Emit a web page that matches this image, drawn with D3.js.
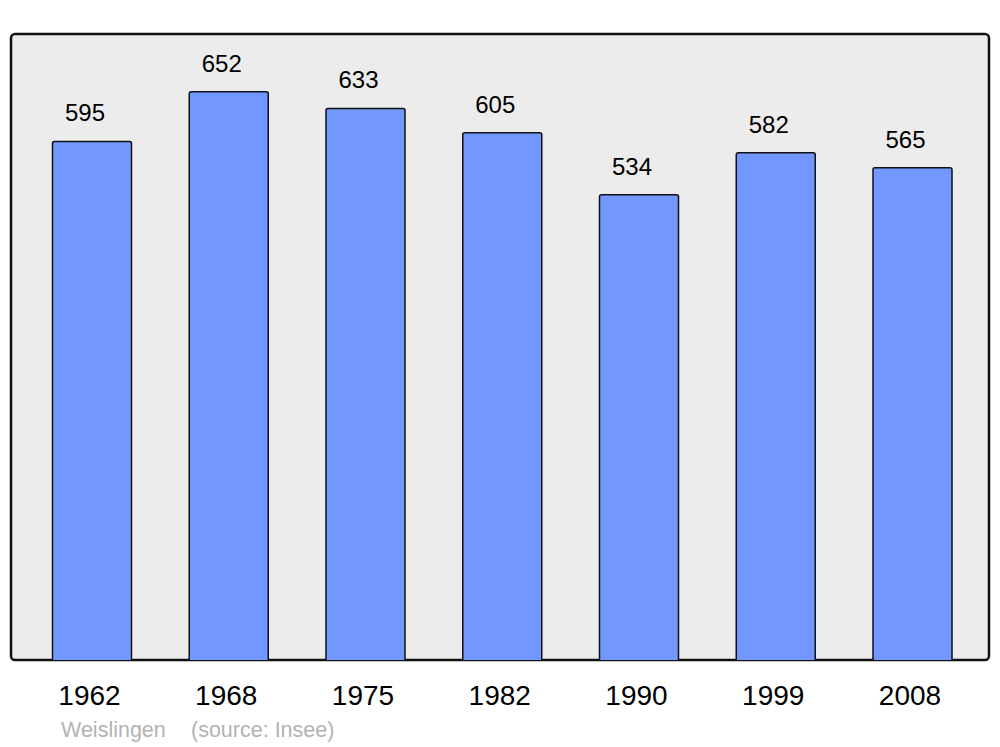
<!DOCTYPE html>
<html>
<head>
<meta charset="utf-8">
<script src="https://cdn.jsdelivr.net/npm/d3@7"></script>
<style>
  body { margin: 0; background: #fff; }
  text { font-family: "Liberation Sans", Arial, sans-serif; }
</style>
</head>
<body>
<div id="canvas"></div>
<script>
// population data
var years = ['1962', '1968', '1975', '1982', '1990', '1999', '2008'];
var population = [595, 652, 633, 605, 534, 582, 565];
var place = 'Weislingen';
var source = '(source: Insee)';

var W = 1000, H = 747;
var svg = d3.select('#canvas').append('svg')
    .attr('width', W).attr('height', H);

var panel = {x: 11, y: 34, w: 978, h: 626};

svg.append('rect')
    .attr('x', panel.x).attr('y', panel.y)
    .attr('width', panel.w).attr('height', panel.h)
    .attr('rx', 4)
    .style('fill', '#ececec')
    .style('stroke', '#111')
    .style('stroke-width', 2.5);

var x = d3.scalePoint()
    .domain(years)
    .range([92, 912.5]);

var y = d3.scaleLinear()
    .domain([0, d3.max(population) * 1.1])
    .range([panel.y + panel.h, panel.y + 1]);

var barW = 79;
var data = years.map(function(d, i){ return {year: d, value: population[i]}; });

svg.selectAll('.bar')
    .data(data)
    .enter()
    .append('path').attr('class', 'bar')
    .attr('d', function(d){
        var x0 = x(d.year) - barW / 2, x1 = x0 + barW,
            y0 = y(d.value), y1 = y(0), r = 2;
        return 'M' + x0 + ',' + y1 + 'L' + x0 + ',' + (y0 + r) +
            'Q' + x0 + ',' + y0 + ' ' + (x0 + r) + ',' + y0 +
            'L' + (x1 - r) + ',' + y0 +
            'Q' + x1 + ',' + y0 + ' ' + x1 + ',' + (y0 + r) +
            'L' + x1 + ',' + y1;
    })
    .style('fill', '#7298ff')
    .style('stroke', '#111')
    .style('stroke-width', 1.5);

svg.selectAll('.val')
    .data(data)
    .enter()
    .append('text').attr('class', 'val')
    .attr('x', function(d){ return x(d.year) - 7; })
    .attr('y', function(d){ return y(d.value) - 20; })
    .attr('text-anchor', 'middle')
    .style('font-size', '24px')
    .text(function(d){ return d.value; });

svg.selectAll('.yr')
    .data(years)
    .enter()
    .append('text').attr('class', 'yr')
    .attr('x', function(d){ return x(d) - 2.5; })
    .attr('y', 705)
    .attr('text-anchor', 'middle')
    .style('font-size', '28px')
    .text(function(d){ return d; });

svg.append('text')
    .attr('x', 61).attr('y', 737)
    .style('font-size', '21.5px')
    .style('fill', '#b3b3b3')
    .text(place);

svg.append('text')
    .attr('x', 191).attr('y', 737)
    .style('font-size', '21.5px')
    .style('fill', '#b3b3b3')
    .text(source);
</script>
</body>
</html>
